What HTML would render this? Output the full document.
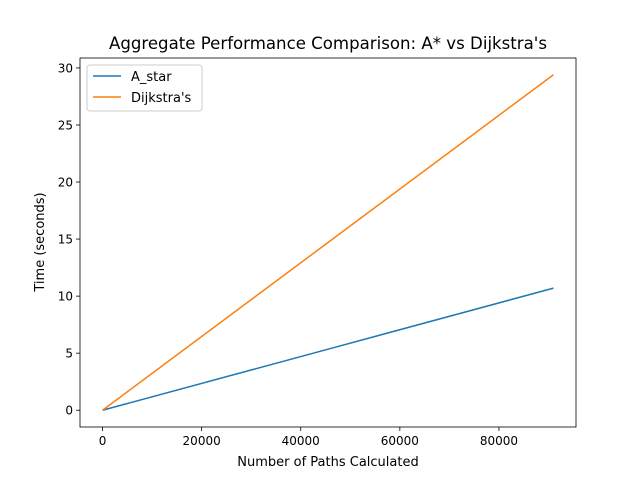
<!DOCTYPE html>
<html><head><meta charset="utf-8"><style>
body{margin:0;background:#fff;font-family:"Liberation Sans","DejaVu Sans",sans-serif;}
svg text{font-family:"DejaVu Sans","Liberation Sans",sans-serif;}
</style></head><body>
<svg id="chart" width="640" height="480" xmlns="http://www.w3.org/2000/svg">
<rect width="640" height="480" fill="#fff"/>
<text x="328" y="49" font-size="16.6" text-anchor="middle">Aggregate Performance Comparison: A* vs Dijkstra's</text>
<g id="plot"></g>
<rect x="80" y="58" width="496" height="369" fill="none" stroke="#000" stroke-width="0.8"/>
<text x="328" y="466" font-size="13" text-anchor="middle">Number of Paths Calculated</text>
<text transform="translate(44,242) rotate(-90)" font-size="13" text-anchor="middle">Time (seconds)</text>
<g>
<rect x="87" y="65" width="115" height="46" rx="3" fill="#fff" stroke="#ccc" stroke-width="1"/>
<line x1="93" y1="76" x2="121" y2="76" stroke="#1f77b4" stroke-width="1.5"/>
<text x="131" y="81" font-size="13">A_star</text>
<line x1="93" y1="97" x2="121" y2="97" stroke="#ff7f0e" stroke-width="1.5"/>
<text x="131" y="102" font-size="13">Dijkstra's</text>
</g>
</svg>
<script>
const xValues=[0,45500,91000];
const astarValues=[0,5.35,10.7];
const dijkstraValues=[0,14.7,29.4];
const xTicks=[0,20000,40000,60000,80000];
const yTicks=[0,5,10,15,20,25,30];
const NS="http://www.w3.org/2000/svg";
const L=80,R=576,T=58,B=427;
const xmin=-4550,xmax=95550,ymin=-1.47,ymax=30.87;
const sx=v=>L+(v-xmin)/(xmax-xmin)*(R-L);
const sy=v=>B-(v-ymin)/(ymax-ymin)*(B-T);
const g=document.getElementById('plot');
function mk(t,a){const e=document.createElementNS(NS,t);for(const k in a)e.setAttribute(k,a[k]);g.appendChild(e);return e;}
xTicks.forEach(v=>{
 const l=mk('line',{x1:sx(v),x2:sx(v),y1:B,y2:B+4,stroke:'#000','stroke-width':0.8});
 
 
 const t=mk('text',{x:sx(v),y:B+18,'font-size':12,'text-anchor':'middle'});t.textContent=v;
 
 
});
yTicks.forEach(v=>{
 const l=mk('line',{x1:L-4,x2:L,y1:sy(v),y2:sy(v),stroke:'#000','stroke-width':0.8});
 
 
 const t=mk('text',{x:L-7,y:sy(v)+4.5,'font-size':12,'text-anchor':'end'});t.textContent=v;
 
 
});
function line(vals,color,name){
 const p=mk('polyline',{points:xValues.map((x,i)=>sx(x)+','+sy(vals[i])).join(' '),fill:'none',stroke:color,'stroke-width':1.5});
 
 
}
line(astarValues,'#1f77b4','astar-line');
line(dijkstraValues,'#ff7f0e','dijkstra-line');
</script>
</body></html>
